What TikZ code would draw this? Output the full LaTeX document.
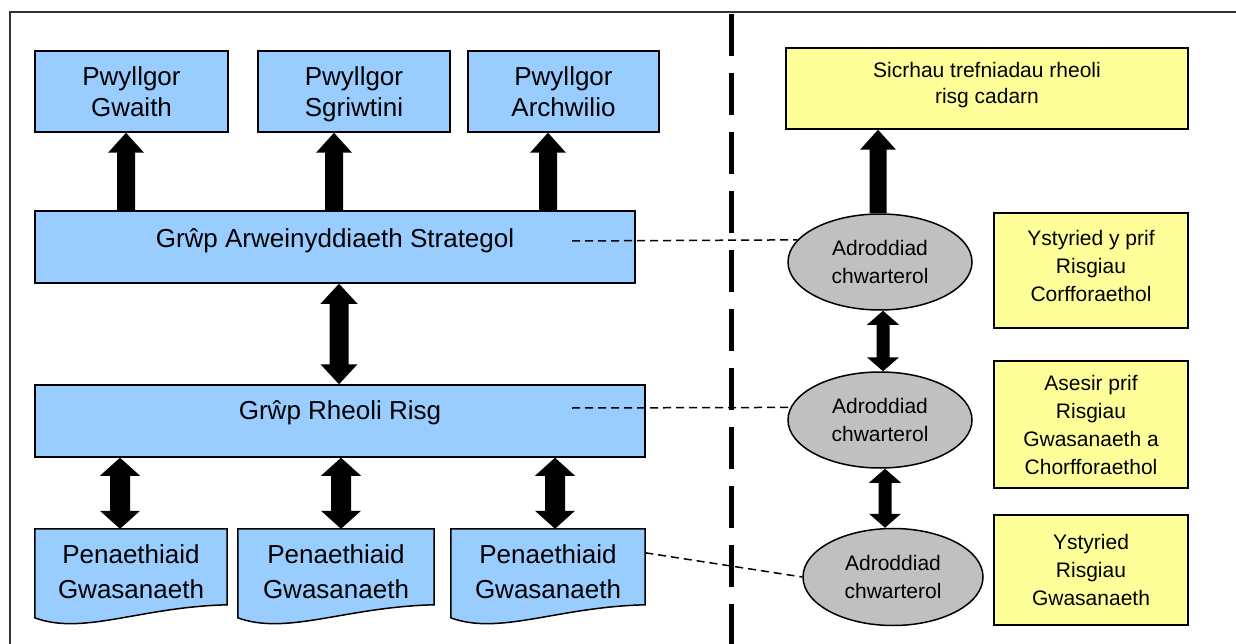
\documentclass[tikz,border=0pt]{standalone}
\usepackage{fontspec}
\setmainfont{Liberation Sans}
\usetikzlibrary{shapes.geometric,calc,backgrounds}
\definecolor{boxblue}{RGB}{153,204,255}
\definecolor{boxyellow}{RGB}{255,255,153}
\definecolor{ellgray}{RGB}{192,192,192}
\tikzset{
  frame/.style={draw=black!80, line width=1.5pt},
  bluebox/.style={draw=black, line width=1.5pt, fill=boxblue, inner sep=0pt, align=center, text depth=0pt, font=\fontsize{26}{31}\selectfont},
  bandbox/.style={draw=black, line width=1.5pt, fill=boxblue, inner sep=0pt},
  bandlbl/.style={inner sep=0pt, font=\fontsize{26}{31}\selectfont},
  docbox/.style={inner sep=0pt, align=center, font=\fontsize{26}{35}\selectfont},
  docshape/.style={draw=black, line width=1.5pt, fill=boxblue},
  yelbox/.style={draw=black, line width=1.5pt, fill=boxyellow, inner sep=0pt, align=center, font=\fontsize{21}{28}\selectfont},
  yellbl/.style={inner sep=0pt, align=center, font=\fontsize{21}{28}\selectfont},
  ellbox/.style={ellipse, draw=black, line width=1.5pt, fill=ellgray, inner sep=0pt, align=center, font=\fontsize{21}{28}\selectfont},
  conn/.style={draw=black, line width=1.5pt, dash pattern=on 8pt off 5pt},
  divider/.style={draw=black, line width=5pt, dash pattern=on 42pt off 17pt},
  blk/.style={fill=black}
}
% #1 tail, #2 tip, #3 shaft width, #4 head width, #5 head length (up arrow, y axis pointing down)
\newcommand\blockup[5]{%
  \fill[blk] ($(#1)+(-#3/2,0)$) -- ($(#2)+(-#3/2,#5)$) -- ($(#2)+(-#4/2,#5)$) -- (#2)
    -- ($(#2)+(#4/2,#5)$) -- ($(#2)+(#3/2,#5)$) -- ($(#1)+(#3/2,0)$) -- cycle;}
% #1 top tip, #2 bottom tip, #3 shaft, #4 head width, #5 head length
\newcommand\blockboth[5]{%
  \fill[blk] (#1) -- ($(#1)+(#4/2,#5)$) -- ($(#1)+(#3/2,#5)$) -- ($(#2)+(#3/2,-#5)$)
    -- ($(#2)+(#4/2,-#5)$) -- (#2) -- ($(#2)+(-#4/2,-#5)$) -- ($(#2)+(-#3/2,-#5)$)
    -- ($(#1)+(-#3/2,#5)$) -- ($(#1)+(-#4/2,#5)$) -- cycle;}
% document shape for a named node (top edge = node top, right side 76 high, left side 89 high)
\newcommand\docoutline[1]{%
  \begin{scope}[on background layer]
  \draw[docshape] (#1.north west) -- (#1.north east) -- ($(#1.north east)+(0,76)$)
    .. controls ($(#1.north west)!0.55!(#1.north east)+(0,78)$) and ($(#1.north west)!0.25!(#1.north east)+(0,107)$)
    .. ($(#1.north west)+(0,89)$) -- cycle;
  \end{scope}}
\begin{document}
\begin{tikzpicture}[x=1pt,y=-1pt]
\useasboundingbox (0,0) rectangle (1236,644);
\draw[frame] (1236,12) -- (10,12) -- (10,644);

% left column
\node[bluebox, minimum width=193pt, minimum height=81pt] (pg) at (131.5,91.5) {Pwyllgor\\Gwaith};
\node[bluebox, minimum width=192pt, minimum height=81pt] (ps) at (354,91.5) {Pwyllgor\\Sgriwtini};
\node[bluebox, minimum width=191pt, minimum height=81pt] (pa) at (563.5,91.5) {Pwyllgor\\Archwilio};

\node[bandbox, minimum width=600pt, minimum height=72pt] (gas) at (335,247) {};
\node[bandlbl] (gasl) at (335,241) {Grŵp Arweinyddiaeth Strategol};
\node[bandbox, minimum width=610pt, minimum height=72pt] (grr) at (340,421) {};
\node[bandlbl] (grrl) at (340,413) {Grŵp Rheoli Risg};

\node[docbox, minimum width=192pt, minimum height=86pt] (ph1) at (131,572) {Penaethiaid\\Gwasanaeth};
\node[docbox, minimum width=196pt, minimum height=86pt] (ph2) at (336,572) {Penaethiaid\\Gwasanaeth};
\node[docbox, minimum width=194pt, minimum height=86pt] (ph3) at (548,572) {Penaethiaid\\Gwasanaeth};
\docoutline{ph1}
\docoutline{ph2}
\docoutline{ph3}

% right column
\node[yelbox, minimum width=402pt, minimum height=81pt] (y1) at (987,88.5) {};
\node[yellbl, font=\fontsize{21}{26}\selectfont] (y1l) at (987,85) {Sicrhau trefniadau rheoli\\risg cadarn};
\node[yelbox, minimum width=194pt, minimum height=115pt] (y2) at (1091,270.5) {};
\node[yellbl] (y2l) at (1091,266) {Ystyried y prif\\Risgiau\\Corfforaethol};
\node[yelbox, minimum width=194pt, minimum height=127pt] (y3) at (1091,424.5) {Asesir prif\\Risgiau\\Gwasanaeth a\\Chorfforaethol};
\node[yelbox, minimum width=194pt, minimum height=110pt] (y4) at (1091,570) {Ystyried\\Risgiau\\Gwasanaeth};

\node[ellbox, minimum width=184pt, minimum height=96pt] (e1) at (880,262) {Adroddiad\\chwarterol};
\node[ellbox, minimum width=184pt, minimum height=96pt] (e2) at (880,420) {Adroddiad\\chwarterol};
\node[ellbox, minimum width=180pt, minimum height=97pt] (e3) at (893,577) {Adroddiad\\chwarterol};

% divider
\draw[divider] (731,14) -- (731,644);

% dashed connectors
\coordinate (d1s) at (572,241);
\coordinate (d2s) at (572,408);
\draw[conn] (d1s) -- (e1.165.5);
\draw[conn] (d2s) -- (e2.172.3);
\draw[conn] ($(ph3.north east)+(0,24)$) -- (e3.west);

% arrow columns
\coordinate (ax1) at (126,0);
\coordinate (ax2) at (334,0);
\coordinate (ax3) at (548,0);
\coordinate (ax4) at (339,0);
\coordinate (bx1) at (120,0);
\coordinate (bx2) at (341,0);
\coordinate (bx3) at (555,0);
\coordinate (rx1) at (878,0);
\coordinate (rx2) at (883,0);
\coordinate (rx3) at (885,0);

\coordinate (t1) at (gas.north -| ax1); \coordinate (h1) at (pg.south -| ax1);
\coordinate (t2) at (gas.north -| ax2); \coordinate (h2) at (ps.south -| ax2);
\coordinate (t3) at (gas.north -| ax3); \coordinate (h3) at (pa.south -| ax3);
\blockup{t1}{h1}{18}{36}{20}
\blockup{t2}{h2}{18}{36}{20}
\blockup{t3}{h3}{18}{36}{20}

\coordinate (m1) at (gas.south -| ax4); \coordinate (m2) at (grr.north -| ax4);
\blockboth{m1}{m2}{19}{37}{20}

\coordinate (p1a) at (grr.south -| bx1); \coordinate (p1b) at (ph1.north -| bx1);
\coordinate (p2a) at (grr.south -| bx2); \coordinate (p2b) at (ph2.north -| bx2);
\coordinate (p3a) at (grr.south -| bx3); \coordinate (p3b) at (ph3.north -| bx3);
\blockboth{p1a}{p1b}{20}{40}{18}
\blockboth{p2a}{p2b}{20}{40}{18}
\blockboth{p3a}{p3b}{20}{40}{18}

\coordinate (r1t) at (e1.north -| rx1); \coordinate (r1h) at (y1.south -| rx1);
\blockup{r1t}{r1h}{17}{36}{20}
\coordinate (r2a) at (e1.south -| rx2); \coordinate (r2b) at (e2.north -| rx2);
\blockboth{r2a}{r2b}{13}{32}{14}
\coordinate (r3a) at (e2.south -| rx3); \coordinate (r3b) at (e3.north -| rx3);
\blockboth{r3a}{r3b}{13}{32}{14}
\end{tikzpicture}
\end{document}
